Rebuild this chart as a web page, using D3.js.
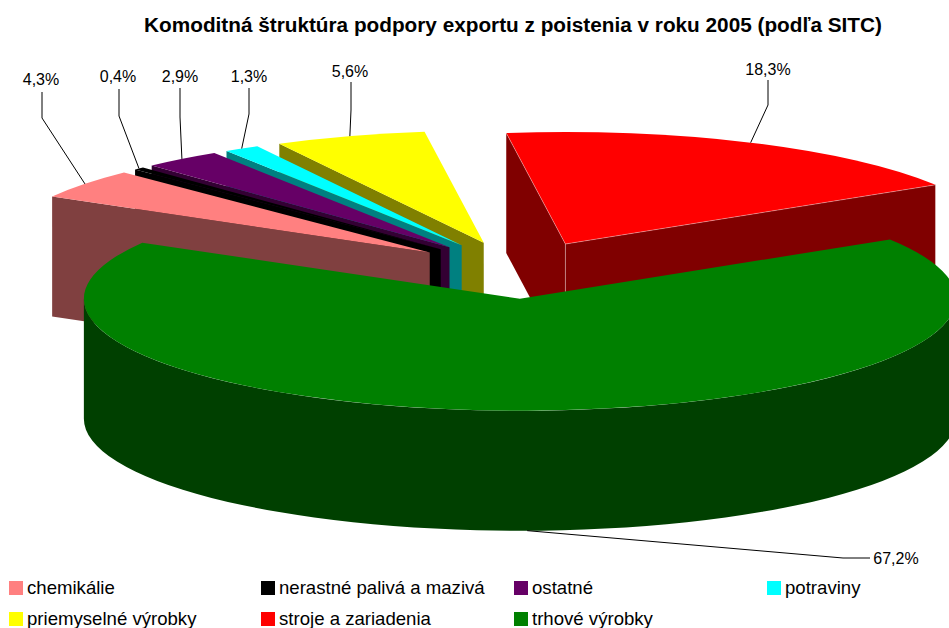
<!DOCTYPE html>
<html><head><meta charset="utf-8">
<script src="https://d3js.org/d3.v7.min.js"></script>
<style>html,body{margin:0;padding:0;background:#fff}svg{display:block}text{font-family:"Liberation Sans",Arial,sans-serif;fill:#000}</style>
</head><body><svg id="c" width="949" height="628"></svg>
<script>
const titleText = "Komoditná štruktúra podpory exportu z poistenia v roku 2005 (podľa SITC)";
const categories = ["chemikálie","nerastné palivá a mazivá","ostatné","potraviny","priemyselné výrobky","stroje a zariadenia","trhové výrobky"];
const shares = [4.3,0.4,2.9,1.3,5.6,18.3,67.2];
const topColors = ["#ff8080","#000000","#660066","#00ffff","#ffff00","#ff0000","#008000"];
const sideColors = ["#804040","#000000","#330033","#008080","#808000","#800000","#004000"];
// layout of pie
const CX=518, CY=270, RX=436, RY=112, DEPTH=120, EXPLODE=0.256;
// label centre + baseline, elbow points of the leader lines
const labelX=[41,118,180,249,350,768,896], labelY=[85,82,82,82,77,75,564];
const leaderStart=[[42,92],[119,89],[180,88],[249,88],[351,82],[768,80],[870,558]];
const leaderElbow=[[42,118],[119,116],[180,117],[249,114],[351,110],[768,105],[843,558]];
const legendCols=[9,261,514,767], legendRows=[581,612];

const svg=d3.select("#c");
const sy=RY/RX, dy=DEPTH/sy;
const arcs=d3.pie().sort(null).value(d=>d).startAngle(300*Math.PI/180).endAngle(660*Math.PI/180)(shares);
const arcGen=d3.arc().innerRadius(0).outerRadius(RX);
const P=a=>[RX*Math.sin(a),-RX*Math.cos(a)];
const mid=d=>(d.startAngle+d.endAngle)/2;
const apex=d=>[CX+EXPLODE*RX*Math.sin(mid(d)),CY-EXPLODE*RY*Math.cos(mid(d))];

// painter order: small slices back to front, then red, then green
const order=[4,3,2,1,0,5,6];
order.forEach(i=>{
  const d=arcs[i],[ax,ay]=apex(d);
  const g=svg.append("g").attr("transform",`translate(${ax},${ay}) scale(1,${sy})`);
  const side=sideColors[i], top=topColors[i];
  const face=a=>{
    const [x,y]=P(a),p=d3.path();
    p.moveTo(0,0);p.lineTo(x,y);p.lineTo(x,y+dy);p.lineTo(0,dy);p.closePath();
    g.append("path").attr("d",p.toString()).attr("fill",side);
  };
  if(Math.cos(d.endAngle+Math.PI/2)<0) face(d.endAngle);
  if(Math.cos(d.startAngle-Math.PI/2)<0) face(d.startAngle);
  // outer curved wall: only the front half of the rim faces the viewer
  for(const k of [0,1]){
    const lo=Math.max(d.startAngle,Math.PI/2+k*2*Math.PI), hi=Math.min(d.endAngle,3*Math.PI/2+k*2*Math.PI);
    if(hi>lo){
      const p=d3.path(),o=-Math.PI/2;
      p.arc(0,0,RX,lo+o,hi+o,false);
      p.arc(0,dy,RX,hi+o,lo+o,true);
      p.closePath();
      g.append("path").attr("d",p.toString()).attr("fill",side);
    }
  }
  g.append("path").attr("d",arcGen(d)).attr("fill",top);
  // light seams on the large exploded slice
  if(i===5){
    const seam=d3.path();
    const [x0,y0]=P(d.startAngle),[x1,y1]=P(d.endAngle);
    seam.moveTo(x0,y0);seam.lineTo(0,0);seam.lineTo(x1,y1);seam.lineTo(x1,y1+dy);
    seam.moveTo(0,0);seam.lineTo(0,dy);
    g.append("path").attr("d",seam.toString()).attr("fill","none")
      .attr("stroke","#ffffff").attr("stroke-opacity",0.35).attr("stroke-width",1).attr("vector-effect","non-scaling-stroke");
  }
});

// leader lines
const line=d3.line();
arcs.forEach((d,i)=>{
  const [ax,ay]=apex(d),m=mid(d);
  const tip=[ax+RX*Math.sin(m),ay-RY*Math.cos(m)+(i===6?DEPTH:0)];
  svg.append("path").attr("d",line([leaderStart[i],leaderElbow[i],tip]))
    .attr("fill","none").attr("stroke","#000").attr("stroke-width",1);
  svg.append("text").attr("x",labelX[i]).attr("y",labelY[i]).attr("text-anchor","middle")
    .attr("font-size",16).text(shares[i].toFixed(1).replace(".",",")+"%");
});

// title
svg.append("text").attr("x",513).attr("y",32).attr("text-anchor","middle")
  .attr("font-size",20.75).attr("font-weight","bold").text(titleText);

// legend
categories.forEach((c,i)=>{
  const x=legendCols[i%4], y=legendRows[Math.floor(i/4)];
  svg.append("rect").attr("x",x).attr("y",y).attr("width",14).attr("height",14).attr("fill",topColors[i]);
  svg.append("text").attr("x",x+18).attr("y",y+12.5).attr("font-size",18.6).text(c);
});
</script></body></html>
